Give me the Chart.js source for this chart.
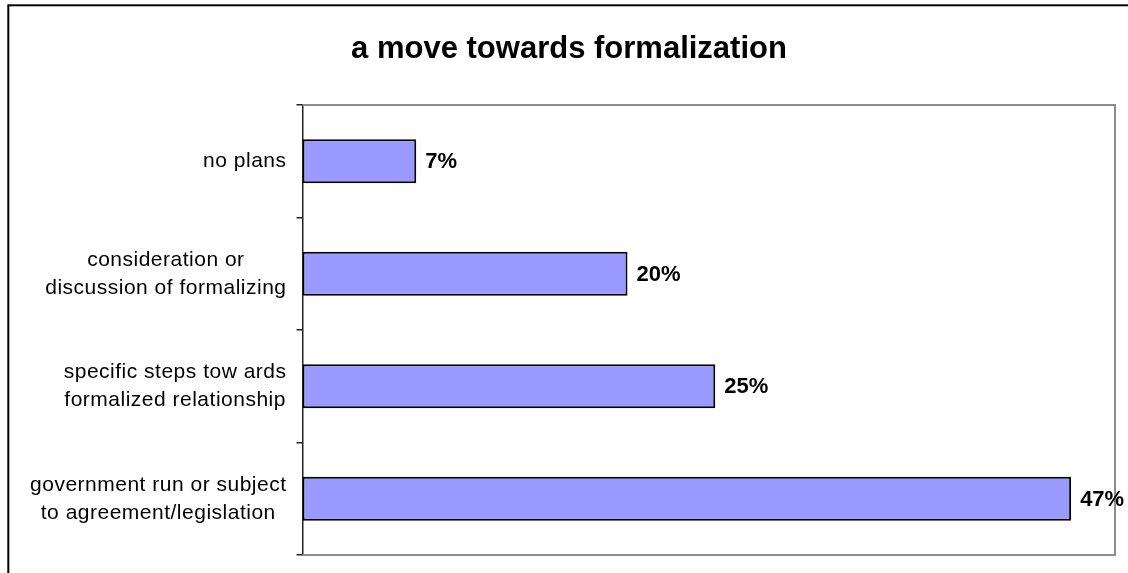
<!DOCTYPE html>
<html>
<head>
<meta charset="utf-8">
<script src="https://cdn.jsdelivr.net/npm/chart.js@4/dist/chart.umd.min.js"></script>
<style>
  html, body { margin: 0; padding: 0; background: #fff; }
  #wrap { position: relative; width: 1128px; height: 573px; }
</style>
</head>
<body>
<div id="wrap"><canvas id="c" width="1128" height="573"></canvas></div>
<script>
const chartTitle = 'a move towards formalization';
const categories = [
  ['no plans'],
  ['consideration or', 'discussion of formalizing'],
  ['specific steps tow ards', 'formalized relationship'],
  ['government run or subject', 'to agreement/legislation']
];
const values = [7.0, 20.0, 25.4, 47.3];
const axisMax = 50;

const FONT = '"Liberation Sans", Arial, sans-serif';

const decorPlugin = {
  id: 'decor',
  beforeDraw(chart) {
    const ctx = chart.ctx;
    ctx.save();
    ctx.fillStyle = '#fff';
    ctx.fillRect(0, 0, chart.width, chart.height);
    ctx.strokeStyle = '#000';
    ctx.lineWidth = 2;
    ctx.strokeRect(8.3, 5.3, 1300, 800);
    ctx.restore();
  },
  beforeDatasetsDraw(chart) {
    const ctx = chart.ctx;
    const a = chart.chartArea;
    ctx.save();
    ctx.strokeStyle = '#8c8c8c';
    ctx.lineWidth = 2;
    ctx.beginPath();
    ctx.moveTo(a.left, a.top);
    ctx.lineTo(a.right, a.top);
    ctx.lineTo(a.right, a.bottom);
    ctx.lineTo(a.left, a.bottom);
    ctx.stroke();
    ctx.restore();
  },
  afterDraw(chart) {
    const ctx = chart.ctx;
    const yScale = chart.scales.y;
    ctx.save();
    // category labels
    ctx.font = '21px ' + FONT;
    if ('letterSpacing' in ctx) ctx.letterSpacing = '0.5px';
    ctx.fillStyle = '#000';
    ctx.textBaseline = 'middle';
    ctx.textAlign = 'center';
    const rightEdge = yScale.right - 16;
    const lh = 28;
    categories.forEach((lines, i) => {
      const cy = yScale.getPixelForValue(i);
      const w = Math.max(...lines.map(l => ctx.measureText(l).width));
      const cx = rightEdge - w / 2;
      const y0 = cy - (lines.length - 1) * lh / 2;
      lines.forEach((l, j) => ctx.fillText(l, cx, y0 + j * lh));
    });
    // value labels
    if ('letterSpacing' in ctx) ctx.letterSpacing = '0px';
    ctx.font = 'bold 22px ' + FONT;
    ctx.textAlign = 'left';
    const meta = chart.getDatasetMeta(0);
    meta.data.forEach((bar, i) => {
      ctx.fillText(Math.round(values[i]) + '%', bar.x + 9, bar.y + 1);
    });
    ctx.restore();
  }
};

new Chart(document.getElementById('c'), {
  type: 'bar',
  data: {
    labels: categories,
    datasets: [{
      data: values,
      backgroundColor: '#9999ff',
      borderColor: '#000',
      borderWidth: 2,
      borderSkipped: false,
      categoryPercentage: 1,
      barPercentage: 0.39
    }]
  },
  options: {
    indexAxis: 'y',
    responsive: false,
    animation: false,
    devicePixelRatio: 1,
    layout: { padding: { left: 23, right: 13, top: 0, bottom: 18 } },
    plugins: {
      legend: { display: false },
      tooltip: { enabled: false },
      title: {
        display: true,
        text: chartTitle,
        color: '#000',
        font: { family: FONT, size: 31, weight: 'bold', lineHeight: 1.2 },
        padding: { top: 30.5, bottom: 37.3 }
      }
    },
    scales: {
      x: {
        display: false,
        min: 0,
        max: axisMax
      },
      y: {
        afterFit(scale) { scale.width = 279.5; },
        ticks: { display: false },
        grid: {
          offset: true,
          drawOnChartArea: false,
          drawTicks: true,
          tickLength: 6,
          color: '#222',
          lineWidth: 1.5
        },
        border: { display: true, color: '#222', width: 1.5 }
      }
    }
  },
  plugins: [decorPlugin]
});
</script>
</body>
</html>
